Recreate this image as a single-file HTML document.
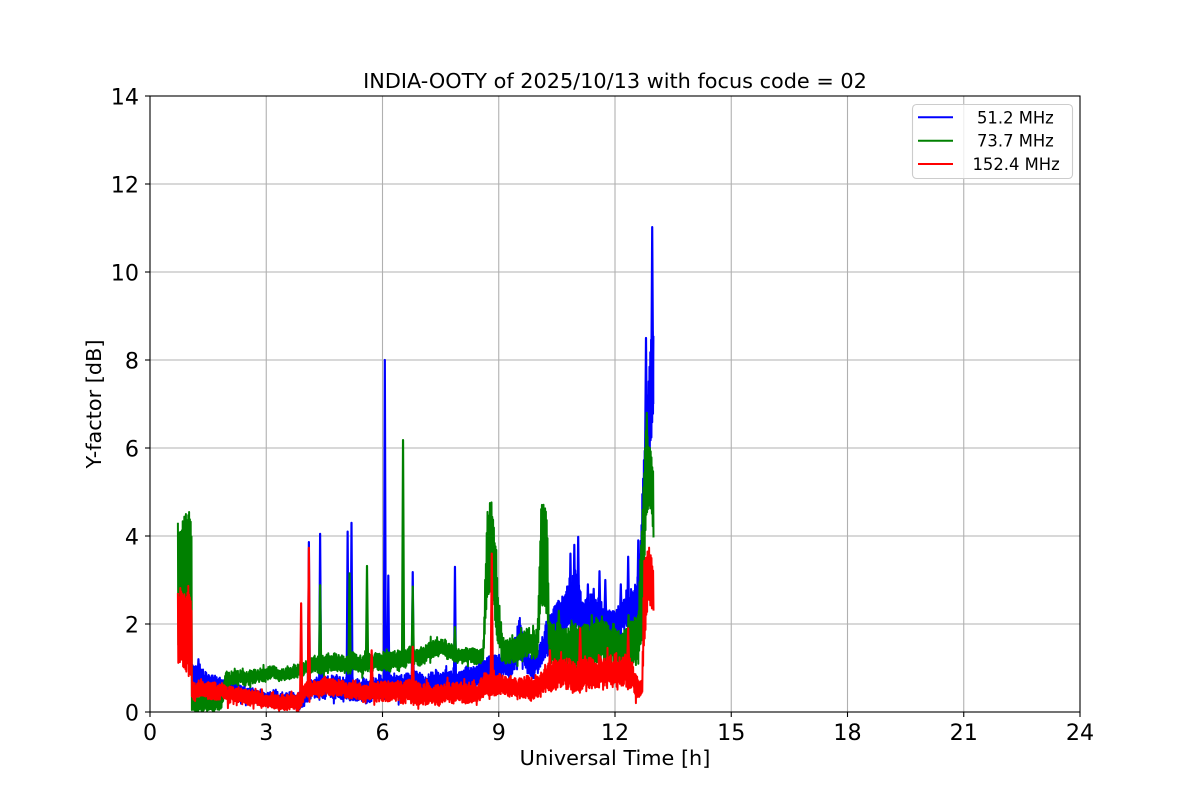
<!DOCTYPE html>
<html><head><meta charset="utf-8"><style>
html,body{margin:0;padding:0;background:#fff;}
svg{display:block;}
text{font-family:"DejaVu Sans","Liberation Sans",sans-serif;fill:#000;}
</style></head><body>
<svg id="s" width="1200" height="800" xmlns="http://www.w3.org/2000/svg">
<rect width="1200" height="800" fill="#fff"/>
<defs><clipPath id="cp"><rect x="150" y="96" width="930" height="616"/></clipPath></defs>
<g stroke="#b0b0b0" stroke-width="1.1">
<line x1="266.25" y1="96" x2="266.25" y2="712"/>
<line x1="382.5" y1="96" x2="382.5" y2="712"/>
<line x1="498.75" y1="96" x2="498.75" y2="712"/>
<line x1="615" y1="96" x2="615" y2="712"/>
<line x1="731.25" y1="96" x2="731.25" y2="712"/>
<line x1="847.5" y1="96" x2="847.5" y2="712"/>
<line x1="963.75" y1="96" x2="963.75" y2="712"/>
<line x1="150" y1="184" x2="1080" y2="184"/>
<line x1="150" y1="272" x2="1080" y2="272"/>
<line x1="150" y1="360" x2="1080" y2="360"/>
<line x1="150" y1="448" x2="1080" y2="448"/>
<line x1="150" y1="536" x2="1080" y2="536"/>
<line x1="150" y1="624" x2="1080" y2="624"/>
</g>
<g id="data" clip-path="url(#cp)"></g>
<g stroke="#000" stroke-width="1.1" fill="none">
<rect x="150" y="96" width="930" height="616"/>
<line x1="150" y1="712" x2="150" y2="717"/>
<line x1="266.25" y1="712" x2="266.25" y2="717"/>
<line x1="382.5" y1="712" x2="382.5" y2="717"/>
<line x1="498.75" y1="712" x2="498.75" y2="717"/>
<line x1="615" y1="712" x2="615" y2="717"/>
<line x1="731.25" y1="712" x2="731.25" y2="717"/>
<line x1="847.5" y1="712" x2="847.5" y2="717"/>
<line x1="963.75" y1="712" x2="963.75" y2="717"/>
<line x1="1080" y1="712" x2="1080" y2="717"/>
<line x1="145" y1="96" x2="150" y2="96"/>
<line x1="145" y1="184" x2="150" y2="184"/>
<line x1="145" y1="272" x2="150" y2="272"/>
<line x1="145" y1="360" x2="150" y2="360"/>
<line x1="145" y1="448" x2="150" y2="448"/>
<line x1="145" y1="536" x2="150" y2="536"/>
<line x1="145" y1="624" x2="150" y2="624"/>
<line x1="145" y1="712" x2="150" y2="712"/>
</g>
<g font-size="22.2" text-anchor="middle">
<text x="150" y="740">0</text>
<text x="266.25" y="740">3</text>
<text x="382.5" y="740">6</text>
<text x="498.75" y="740">9</text>
<text x="615" y="740">12</text>
<text x="731.25" y="740">15</text>
<text x="847.5" y="740">18</text>
<text x="963.75" y="740">21</text>
<text x="1080" y="740">24</text>
</g>
<g font-size="22.2" text-anchor="end">
<text x="139" y="104.5">14</text>
<text x="139" y="192.5">12</text>
<text x="139" y="280.5">10</text>
<text x="139" y="368.5">8</text>
<text x="139" y="456.5">6</text>
<text x="139" y="544.5">4</text>
<text x="139" y="632.5">2</text>
<text x="139" y="720.5">0</text>
</g>
<text x="615" y="88" font-size="20.8" text-anchor="middle">INDIA-OOTY of 2025/10/13 with focus code = 02</text>
<text x="615" y="765" font-size="20.8" text-anchor="middle">Universal Time [h]</text>
<text x="101" y="404" font-size="20.8" text-anchor="middle" transform="rotate(-90 101 404)">Y-factor [dB]</text>
<rect x="912.5" y="104.5" width="160" height="74" rx="4" ry="4" fill="#fff" fill-opacity="0.8" stroke="#cccccc" stroke-width="1.1"/>
<line x1="918" y1="117.3" x2="953" y2="117.3" stroke="#0000ff" stroke-width="2"/>
<line x1="918" y1="140.7" x2="953" y2="140.7" stroke="#008000" stroke-width="2"/>
<line x1="918" y1="164" x2="953" y2="164" stroke="#ff0000" stroke-width="2"/>
<g font-size="16.4">
<text x="977" y="123.3">51.2 MHz</text>
<text x="977" y="146.7">73.7 MHz</text>
<text x="972.5" y="170">152.4 MHz</text>
</g>
</svg>
<script>
(function(){
function mul(a){return function(){a|=0;a=a+0x6D2B79F5|0;var t=Math.imul(a^a>>>15,1|a);t=t+Math.imul(t^t>>>7,61|t)^t;return((t^t>>>14)>>>0)/4294967296;};}
function X(h){return 150+h*38.75;}
function Y(v){return 712-v*44;}
var NS="http://www.w3.org/2000/svg";
var g=document.getElementById("data");
function path(d,color,w){var p=document.createElementNS(NS,"path");p.setAttribute("d",d);p.setAttribute("fill","none");p.setAttribute("stroke",color);p.setAttribute("stroke-width",w);p.setAttribute("stroke-linejoin","round");g.appendChild(p);}
function band(env,color,seed){
  var rnd=mul(seed);var d="";var k=0;var i=0;
  var x0=X(env[0][0]),x1=X(env[env.length-1][0]);
  var lf=0;
  for(var x=x0;x<=x1;x+=0.4){
    var h=(x-150)/38.75;
    while(k<env.length-2&&env[k+1][0]<h)k++;
    var a=env[k],b=env[k+1];
    var t=(h-a[0])/(b[0]-a[0]);if(t<0)t=0;if(t>1)t=1;
    var lo=a[1]+(b[1]-a[1])*t,hi=a[2]+(b[2]-a[2])*t;
    var w=hi-lo;
    var rough=Math.min(0.28*w,0.25);
    var ww=Math.min(w,1);
    lf=lf*0.9+(rnd()-0.5)*0.1;
    var r=rnd();
    var v;
    if(i%2==0){v=hi-rough*r+ww*lf;if(rnd()<0.05)v+=rough*1.1*rnd();}
    else{v=lo+rough*r+ww*lf;if(rnd()<0.05)v-=rough*1.1*rnd();}
    d+=(i==0?"M":"L")+x.toFixed(2)+" "+Y(v).toFixed(2);
    i++;
  }
  path(d,color,2);
}
function spikes(list,color){
  var d="";
  for(var j=0;j<list.length;j++){var s=list[j];
    d+="M"+(X(s[0])-1).toFixed(2)+" "+Y(s[2]).toFixed(2)+"L"+X(s[0]).toFixed(2)+" "+Y(s[1]).toFixed(2)+"L"+(X(s[0])+1).toFixed(2)+" "+Y(s[2]).toFixed(2);}
  path(d,color,2.2);
}
var blue=[[1.08,0.6,1.18],[1.3,0.5,1.0],[1.6,0.4,0.85],[1.9,0.35,0.72],[2.5,0.25,0.6],[3.0,0.15,0.5],[3.5,0.1,0.45],[3.95,0.1,0.4],[4.0,0.2,0.6],[4.3,0.3,0.8],[5.0,0.25,0.8],[5.5,0.2,0.75],[6.0,0.3,0.85],[6.5,0.35,0.9],[7.0,0.35,0.9],[7.5,0.4,0.92],[8.0,0.45,0.95],[8.5,0.55,1.1],[8.7,0.7,1.3],[9.0,0.7,1.3],[9.3,0.8,1.4],[9.45,1.0,1.9],[9.55,1.2,2.2],[9.65,1.0,1.6],[9.8,0.75,1.25],[10.0,0.8,1.4],[10.1,1.0,1.6],[10.3,1.3,2.2],[10.5,1.8,2.6],[10.8,1.9,3.0],[11.0,1.9,3.4],[11.2,1.8,2.6],[11.5,1.8,2.7],[11.8,1.8,2.4],[12.05,1.55,2.3],[12.3,1.8,2.7],[12.55,1.9,3.0],[12.65,2.2,3.6],[12.72,3.0,5.5],[12.82,5.0,7.0],[12.92,6.0,8.5],[13.0,6.8,8.8]];
var green=[[0.72,1.5,4.36],[0.9,1.5,4.38],[0.97,1.5,4.5],[1.07,1.5,4.5],[1.08,0.0,0.4],[1.5,0.02,0.38],[1.85,0.05,0.45],[1.95,0.55,0.9],[2.5,0.62,0.95],[3.0,0.7,1.0],[3.5,0.72,1.02],[3.9,0.8,1.1],[4.2,0.9,1.3],[5.0,0.9,1.3],[6.0,0.95,1.35],[6.5,1.0,1.4],[7.0,1.1,1.5],[7.5,1.25,1.65],[8.0,1.1,1.45],[8.6,1.1,1.45],[8.7,2.5,4.5],[8.8,3.0,4.9],[8.9,2.0,4.0],[9.0,1.4,2.5],[9.1,1.1,1.7],[9.5,1.2,1.9],[10.0,1.2,1.9],[10.1,2.5,4.9],[10.25,2.2,4.5],[10.3,1.2,2.2],[10.5,1.0,2.0],[11.0,0.95,2.0],[11.5,1.0,2.1],[12.0,1.0,1.9],[12.4,1.0,1.9],[12.6,0.9,2.2],[12.7,1.6,4.4],[12.8,4.3,6.5],[12.9,4.6,6.0],[13.0,3.9,5.5]];
var red=[[0.72,1.0,2.75],[0.9,0.95,2.72],[1.0,0.9,2.75],[1.07,0.85,2.7],[1.08,0.3,0.73],[1.5,0.3,0.7],[2.0,0.2,0.6],[2.5,0.15,0.5],[3.0,0.1,0.45],[3.5,0.05,0.4],[3.9,0.05,0.4],[4.0,0.3,0.7],[4.5,0.35,0.75],[5.0,0.3,0.7],[5.5,0.25,0.65],[6.0,0.25,0.7],[6.5,0.2,0.7],[7.0,0.15,0.65],[7.5,0.15,0.65],[8.0,0.2,0.65],[8.5,0.2,0.7],[8.7,0.3,0.95],[9.0,0.35,0.85],[9.5,0.3,0.8],[10.0,0.3,0.85],[10.3,0.45,1.15],[11.0,0.45,1.2],[11.5,0.5,1.2],[12.0,0.5,1.25],[12.45,0.5,1.25],[12.55,0.25,0.85],[12.7,0.3,0.7],[12.75,1.5,3.5],[12.85,2.5,3.8],[12.95,2.3,3.6],[13.0,2.1,3.3]];
band(blue,"#0000ff",11);
spikes([[1.25,1.2,0.7],[4.1,3.86,0.5],[4.39,4.05,0.5],[5.1,4.1,0.5],[5.2,4.3,0.5],[6.06,8.0,0.6],[6.15,3.1,0.6],[6.78,3.18,0.6],[7.87,3.3,0.7],[10.85,3.6,2.0],[10.95,3.8,2.0],[11.05,3.98,2.0],[11.3,2.9,2.0],[11.45,2.8,2.0],[11.6,3.2,2.0],[11.75,3.0,2.0],[12.15,2.9,2.0],[12.34,3.53,2.0],[12.6,3.9,2.2],[12.8,8.5,5.5],[12.96,11.02,7.0]],"#0000ff");
band(green,"#008000",23);
spikes([[4.39,2.88,1.1],[5.15,3.15,1.1],[5.6,3.32,1.2],[6.53,6.18,1.2],[6.78,2.85,1.3],[7.87,1.93,1.3],[10.55,2.3,1.5],[11.4,2.2,1.5],[12.35,2.2,1.5],[12.82,6.8,5.0]],"#008000");
band(red,"#ff0000",37);
spikes([[3.9,2.47,0.3],[4.1,3.73,0.5],[5.72,1.4,0.6],[6.78,1.48,0.6],[8.82,3.6,0.8],[10.32,1.4,0.8],[11.1,1.9,1.0],[12.34,1.9,1.0]],"#ff0000");
})();
</script>
</body></html>
